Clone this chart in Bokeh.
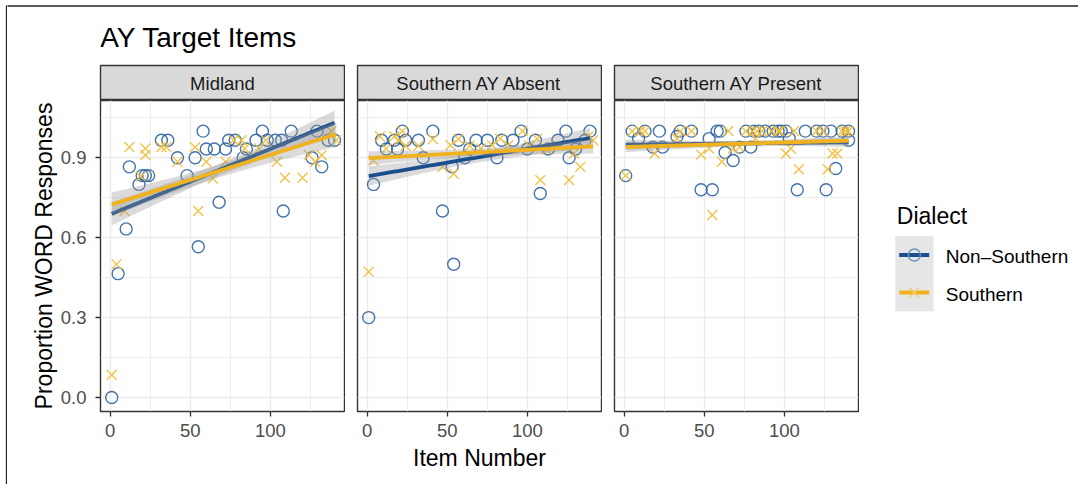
import numpy as np
from bokeh.plotting import figure
from bokeh.layouts import row, column
from bokeh.models import Range1d, FixedTicker, LinearAxis, Grid
from bokeh.core.properties import value
from bokeh.embed import file_html
from bokeh.resources import INLINE

# ---------------- data ----------------
TITLE = "AY Target Items"
FACETS = ["Midland", "Southern AY Absent", "Southern AY Present"]
DIALECTS = ["Non\u2013Southern", "Southern"]
X_LABEL = "Item Number"
Y_LABEL = "Proportion WORD Responses"
LEGEND_TITLE = "Dialect"
X_TICKS = [0, 50, 100]
X_MINOR = [25, 75, 125]
Y_TICKS = [0.0, 0.3, 0.6, 0.9]
Y_MINOR = [0.15, 0.45, 0.75, 1.05]
Y_TICK_LABELS = {0.0: "0.0", 0.3: "0.3", 0.6: "0.6", 0.9: "0.9"}
RESPONSES_PER_ITEM = 6   # each plotted proportion pools several speakers' responses

midland_ns_x = [1, 5, 10, 12, 18, 20, 22, 24, 32, 36, 42, 48, 53, 55, 58, 60, 65, 68, 72, 74,
                78, 83, 85, 91, 95, 98, 103, 107, 108, 113, 126, 129, 132, 136, 140]
midland_ns_y = [0.0, 0.465, 0.633, 0.866, 0.8, 0.833, 0.833, 0.833, 0.966, 0.966, 0.9, 0.833,
                0.9, 0.566, 1.0, 0.933, 0.933, 0.733, 0.933, 0.966, 0.966, 0.9, 0.933, 0.966,
                1.0, 0.966, 0.966, 0.966, 0.7, 1.0, 0.9, 1.0, 0.866, 0.966, 0.966]
midland_s_x = [1, 4, 9, 12, 19, 22, 22, 32, 35, 42, 53, 55, 60, 64, 72, 77, 82, 84, 93, 97,
               104, 109, 120, 124, 128, 132, 138, 141]
midland_s_y = [0.085, 0.5, 0.7, 0.94, 0.83, 0.935, 0.91, 0.94, 0.94, 0.885, 0.94, 0.7, 0.885,
               0.822, 0.885, 0.966, 0.966, 0.935, 0.935, 0.966, 0.885, 0.825, 0.825, 0.91,
               0.885, 0.91, 1.0, 0.966]

absent_ns_x = [1, 4, 9, 12, 17, 19, 22, 24, 32, 35, 41, 47, 53, 54, 57, 61, 64, 68, 75, 81,
               84, 91, 96, 100, 105, 108, 113, 119, 124, 126, 130, 136, 139]
absent_ns_y = [0.3, 0.8, 0.966, 0.933, 0.966, 0.933, 1.0, 0.966, 0.966, 0.9, 1.0, 0.7, 0.866,
               0.5, 0.966, 0.9, 0.933, 0.966, 0.966, 0.9, 0.966, 0.966, 1.0, 0.933, 0.966,
               0.766, 0.933, 0.966, 1.0, 0.9, 0.933, 0.966, 1.0]
absent_s_x = [1, 4, 8, 12, 17, 20, 22, 24, 32, 41, 47, 52, 54, 57, 64, 71, 78, 83, 88, 97,
              101, 106, 108, 112, 119, 126, 129, 133, 138, 141]
absent_s_y = [0.472, 0.89, 0.98, 0.935, 0.98, 0.966, 1.0, 0.945, 0.945, 0.97, 0.866, 0.947,
              0.84, 0.97, 0.945, 0.935, 0.947, 0.972, 0.947, 1.0, 0.947, 0.972, 0.816, 0.93,
              0.947, 0.816, 0.916, 0.866, 0.98, 0.966]

present_ns_x = [1, 5, 9, 13, 18, 22, 24, 33, 35, 42, 48, 53, 55, 58, 60, 63, 68, 72, 76, 79,
                81, 84, 88, 93, 96, 98, 101, 103, 108, 113, 120, 124, 126, 129, 132, 136, 140, 140]
present_ns_y = [0.833, 1.0, 0.972, 1.0, 0.94, 1.0, 0.94, 0.98, 1.0, 1.0, 0.78, 0.972, 0.78,
                1.0, 1.0, 0.92, 0.89, 0.94, 1.0, 0.94, 1.0, 1.0, 1.0, 1.0, 1.0, 1.0, 1.0,
                0.972, 0.78, 1.0, 1.0, 1.0, 0.78, 1.0, 0.86, 1.0, 1.0, 0.966]
present_s_x = [1, 5, 10, 13, 19, 33, 35, 42, 48, 53, 55, 61, 65, 68, 72, 76, 80, 82, 83, 86,
               92, 96, 97, 101, 104, 106, 109, 120, 124, 127, 130, 133, 136, 138, 140]
present_s_y = [0.833, 1.0, 1.0, 1.0, 0.916, 0.972, 1.0, 1.0, 0.912, 0.935, 0.685, 0.885, 1.0,
               0.935, 0.94, 1.0, 1.0, 0.972, 1.0, 1.0, 1.0, 1.0, 1.0, 0.916, 0.935, 1.0,
               0.857, 1.0, 1.0, 0.857, 0.916, 0.916, 1.0, 1.0, 1.0]

PANEL_DATA = [
    (midland_ns_x, midland_ns_y, midland_s_x, midland_s_y),
    (absent_ns_x, absent_ns_y, absent_s_x, absent_s_y),
    (present_ns_x, present_ns_y, present_s_x, present_s_y),
]

# ---------------- style ----------------
FONT = "Liberation Sans"
BLUE_LINE = "#1B4E8C"
BLUE_PT = "#2F64A3"
GOLD_LINE = "#F0B21F"
GOLD_PT = "#F2BC35"
BAND = "#999999"
GRID = "#EBEBEB"
BORDER = "#333333"
FRAME_COLOR = "#222222"

FRAME_W = 244
FRAME_H = 311
BAR_W = 7
LEFT0 = 93
GAP = 12
BOTTOM = 73
STRIP_H = 36
TITLE_H = 64
TOTAL_W = 1078
X_RANGE = (-6.0, 146.2)
Y_RANGE = (-0.0525, 1.115)
CIRCLE_SIZE = 12
CROSS_SIZE = 14


def t_quantile(df, z=1.959964):
    g1 = (z ** 3 + z) / 4
    g2 = (5 * z ** 5 + 16 * z ** 3 + 3 * z) / 96
    g3 = (3 * z ** 7 + 19 * z ** 5 + 17 * z ** 3 - 15 * z) / 384
    return z + g1 / df + g2 / df ** 2 + g3 / df ** 3


def lm_fit(x, y, reps=RESPONSES_PER_ITEM):
    x = np.asarray(x, float)
    y = np.asarray(y, float)
    b, a = np.polyfit(x, y, 1)
    n = len(x) * reps
    resid = y - (a + b * x)
    s = np.sqrt(reps * np.sum(resid ** 2) / (n - 2))
    xm = x.mean()
    sxx = reps * np.sum((x - xm) ** 2)
    xs = np.linspace(x.min(), x.max(), 80)
    fit = a + b * xs
    se = s * np.sqrt(1.0 / n + (xs - xm) ** 2 / sxx)
    t = t_quantile(n - 2)
    return xs, fit, fit - t * se, fit + t * se


def make_strip(i, label):
    left = LEFT0 if i == 0 else GAP
    s = figure(width=left + FRAME_W + 1, height=STRIP_H, x_range=Range1d(0, 1), y_range=Range1d(0, 1),
               x_axis_location=None, y_axis_location=None, toolbar_location=None,
               output_backend="svg", min_border_left=left, min_border_right=1,
               min_border_top=1, min_border_bottom=0)
    s.grid.visible = False
    s.background_fill_color = "#D9D9D9"
    s.border_fill_color = "white"
    s.outline_line_color = BORDER
    s.outline_line_width = 1.4
    s.text(x=[0.5], y=[0.5], text=[label], text_font=value(FONT), text_font_size="18.5px",
           text_align="center", text_baseline="middle", text_color="#1A1A1A")
    return s


def make_panel(i, xs_ns, ys_ns, xs_s, ys_s):
    left = LEFT0 if i == 0 else GAP
    p = figure(width=left + FRAME_W + 1, height=FRAME_H + BOTTOM,
               x_range=Range1d(*X_RANGE), y_range=Range1d(*Y_RANGE),
               y_axis_location=None, toolbar_location=None, output_backend="svg",
               min_border_left=left, min_border_right=1, min_border_top=0,
               min_border_bottom=BOTTOM)
    p.background_fill_color = "white"
    p.border_fill_color = "white"
    p.outline_line_color = BORDER
    p.outline_line_width = 1.4

    xticker = FixedTicker(ticks=X_TICKS, minor_ticks=X_MINOR)
    yticker = FixedTicker(ticks=Y_TICKS, minor_ticks=Y_MINOR)

    ax = p.xaxis[0]
    ax.ticker = xticker
    ax.axis_line_color = None
    ax.major_tick_line_color = BORDER
    ax.major_tick_line_width = 1.3
    ax.major_tick_out = 5
    ax.major_tick_in = 0
    ax.minor_tick_line_color = None
    ax.major_label_text_font = FONT
    ax.major_label_text_font_size = "18.5px"
    ax.major_label_text_color = "#4D4D4D"
    ax.major_label_standoff = 7
    ax.axis_label = X_LABEL if i == 1 else None
    ax.axis_label_text_font = FONT
    ax.axis_label_text_font_size = "23px"
    ax.axis_label_text_font_style = "normal"
    ax.axis_label_text_color = "black"
    ax.axis_label_standoff = 5

    if len(p.xgrid) == 0:
        p.add_layout(Grid(dimension=0, ticker=xticker))
    p.xgrid.ticker = xticker
    if len(p.ygrid) == 0:
        p.add_layout(Grid(dimension=1, ticker=yticker))
    p.ygrid.ticker = yticker
    for g in list(p.xgrid) + list(p.ygrid):
        g.grid_line_color = GRID
        g.grid_line_width = 1.4
        g.minor_grid_line_color = GRID
        g.minor_grid_line_width = 0.9

    if i == 0:
        yax = LinearAxis(ticker=yticker)
        yax.major_label_overrides = Y_TICK_LABELS
        yax.axis_line_color = None
        yax.major_tick_line_color = BORDER
        yax.major_tick_line_width = 1.3
        yax.major_tick_out = 5
        yax.major_tick_in = 0
        yax.minor_tick_line_color = None
        yax.major_label_text_font = FONT
        yax.major_label_text_font_size = "18.5px"
        yax.major_label_text_color = "#4D4D4D"
        yax.major_label_standoff = 9
        yax.axis_label = Y_LABEL
        yax.axis_label_text_font = FONT
        yax.axis_label_text_font_size = "23px"
        yax.axis_label_text_font_style = "normal"
        yax.axis_label_text_color = "black"
        yax.axis_label_standoff = 1
        p.add_layout(yax, "left")

    p.scatter(xs_ns, ys_ns, marker="circle", size=CIRCLE_SIZE, fill_color=None,
              line_color=BLUE_PT, line_width=1.4, line_alpha=0.9)
    p.scatter(xs_s, ys_s, marker="x", size=CROSS_SIZE, line_color=GOLD_PT, line_width=1.4,
              line_alpha=0.9)

    for (xx, yy, col) in [(xs_ns, ys_ns, BLUE_LINE), (xs_s, ys_s, GOLD_LINE)]:
        gx, fit, lo, hi = lm_fit(xx, yy)
        p.varea(x=gx, y1=lo, y2=hi, fill_color=BAND, fill_alpha=0.35)
        p.line(gx, fit, line_color=col, line_width=3.8)
    return p


def blank(width, height):
    f = figure(width=width, height=height, x_range=Range1d(0, width),
               y_range=Range1d(height, 0),
               x_axis_location=None, y_axis_location=None, toolbar_location=None,
               output_backend="svg", min_border=0)
    f.grid.visible = False
    f.outline_line_color = None
    f.background_fill_color = "white"
    f.border_fill_color = "white"
    return f


cols = []
for i, name in enumerate(FACETS):
    strip = make_strip(i, name)
    panel = make_panel(i, *PANEL_DATA[i])
    cols.append(column(strip, panel))

LH = STRIP_H + FRAME_H + BOTTOM
INNER_W = TOTAL_W - BAR_W

# ---------------- outer frame: left bar (full height) ----------------
bar = blank(BAR_W, TITLE_H + LH)
bar.line([BAR_W - 1, BAR_W - 1, BAR_W + 5], [TITLE_H + LH + 6, 5.5, 5.5],
         line_color=FRAME_COLOR, line_width=1.3)

# ---------------- title (plus outer frame top edge) ----------------
tf = blank(INNER_W, TITLE_H)
tf.line([-5, INNER_W + 5], [5.5, 5.5], line_color=FRAME_COLOR, line_width=1.3)
tf.text(x=[92.7], y=[37], text=[TITLE], text_font=value(FONT), text_font_size="28px",
        text_baseline="middle", text_align="left", text_color="black")

# ---------------- legend ----------------
LW = INNER_W - (LEFT0 + FRAME_W + 1) - 2 * (GAP + FRAME_W + 1)
lf = blank(LW, LH)
lf.text(x=[37.3], y=[151], text=[LEGEND_TITLE], text_font=value(FONT), text_font_size="23px",
        text_baseline="middle", text_color="black")
lf.quad(left=[35.7], right=[74], top=[171.7], bottom=[246.7], fill_color="#E6E6E6", line_color=None)
key_y = [190.5, 228.0]
lf.line([39.7, 69.7], [key_y[0], key_y[0]], line_color=BLUE_LINE, line_width=3.8)
lf.scatter([54.85], [key_y[0]], marker="circle", size=CIRCLE_SIZE, fill_color=None,
           line_color="#6F92C0", line_width=1.4)
lf.line([39.7, 69.7], [key_y[1], key_y[1]], line_color=GOLD_LINE, line_width=3.8)
lf.scatter([54.85], [key_y[1]], marker="x", size=CROSS_SIZE, line_color="#F4CC6A", line_width=1.4)
lf.text(x=[86.3, 86.3], y=[k + 1.5 for k in key_y], text=DIALECTS, text_font=value(FONT),
        text_font_size="19px", text_baseline="middle", text_color="black")

layout = row(bar, column(tf, row(*cols, lf)))

open("out.html", "w").write(file_html(layout, INLINE))
